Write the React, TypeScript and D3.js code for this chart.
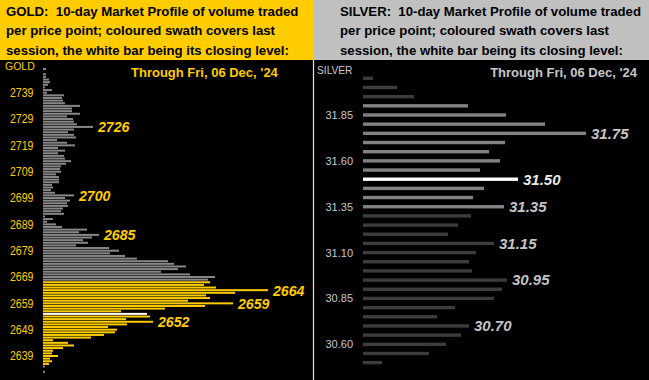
import React from "react";
import * as d3 from "d3";

// ---------- DATA ----------
const goldPrices: number[] = d3.range(2748, 2632, -1);
const goldVolumes: number[] = [
  3, 0, 3, 3, 6, 7, 5, 2, 9, 4,
  21, 19, 20, 22, 37, 29, 29, 37, 24, 30,
  31, 34, 50, 31, 25, 31, 33, 14, 24, 32,
  15, 22, 15, 21, 22, 28, 23, 18, 17, 18,
  13, 16, 16, 16, 9, 10, 8, 12, 31, 22,
  27, 24, 25, 20, 18, 21, 2, 10, 4, 13,
  19, 44, 36, 56, 49, 40, 45, 33, 66, 76,
  67, 82, 94, 125, 131, 143, 135, 118, 147, 172,
  165, 167, 161, 173, 225, 192, 163, 167, 145, 190,
  162, 122, 78, 104, 107, 83, 110, 84, 65, 74,
  72, 61, 48, 10, 25, 31, 20, 10, 9, 15,
  7, 9, 6, 2, 0, 2,
];
const goldSessionLow = 2636;
const goldSessionHigh = 2667;
const goldClose = 2655;
const goldTicks: number[] = [2739, 2729, 2719, 2709, 2699, 2689, 2679, 2669, 2659, 2649, 2639];
const goldCallouts: number[] = [2726, 2700, 2685, 2664, 2659, 2652];

const silverPrices: number[] = [
  32.05, 32.0, 31.95, 31.9, 31.85, 31.8, 31.75, 31.7, 31.65, 31.6,
  31.55, 31.5, 31.45, 31.4, 31.35, 31.3, 31.25, 31.2, 31.15, 31.1,
  31.05, 31.0, 30.95, 30.9, 30.85, 30.8, 30.75, 30.7, 30.65, 30.6,
  30.55, 30.5,
];
const silverVolumes: number[] = [
  10, 34, 51, 105, 143, 182, 223, 142, 126, 137,
  117, 155, 121, 110, 141, 108, 95, 85, 131, 113,
  106, 109, 144, 139, 131, 92, 74, 106, 98, 83,
  66, 19,
];
const silverSessionLow = 31.35;
const silverSessionHigh = 31.9;
const silverClose = 31.5;
const silverTicks: number[] = [31.85, 31.6, 31.35, 31.1, 30.85, 30.6];
const silverCallouts: number[] = [31.75, 31.5, 31.35, 31.15, 30.95, 30.7];

const goldTitle = ["GOLD:  10-day Market Profile of volume traded", "per price point; coloured swath covers last", "session, the white bar being its closing level:"];
const silverTitle = ["SILVER:  10-day Market Profile of volume traded", "per price point; coloured swath covers last", "session, the white bar being its closing level:"];
const dateText = "Through Fri, 06 Dec, '24";

const FONT = "'Liberation Sans', Arial, Helvetica, sans-serif";
const YELLOW = "#ffcc00";

export default function App() {
  const W = 649, H = 380;
  // gold scales
  const gy = d3.scaleLinear().domain([2739, 2639]).range([92.7, 356]);
  const gx = d3.scaleLinear().domain([0, 225]).range([43, 268]);
  // silver scales
  const sy = d3.scaleLinear().domain([31.85, 30.6]).range([115, 344.3]);
  const sx = d3.scaleLinear().domain([0, 223]).range([363, 586]);

  const goldColor = (p: number) =>
    p === goldClose ? "#ffffff" : p >= goldSessionLow && p <= goldSessionHigh ? YELLOW : "#878787";
  const silverColor = (p: number) =>
    Math.abs(p - silverClose) < 1e-6
      ? "#ffffff"
      : p >= silverSessionLow - 1e-6 && p <= silverSessionHigh + 1e-6
      ? "#828282"
      : "#3c3c3c";

  const gIdx = (p: number) => goldPrices.indexOf(p);
  const sIdx = (p: number) => silverPrices.findIndex((q) => Math.abs(q - p) < 1e-6);

  return (
    <svg width={W} height={H} style={{ position: "absolute", left: 0, top: 0, display: "block" }} fontFamily={FONT}>
      <rect x={0} y={0} width={W} height={H} fill="#000" />
      {/* headers */}
      <rect x={0} y={0} width={313} height={60} fill={YELLOW} />
      <rect x={313} y={0} width={W - 313} height={60} fill="#c0c0c0" />
      {goldTitle.map((t, i) => (
        <text key={"gt" + i} x={6} y={15.5 + i * 19.5} fontSize={13.2} fontWeight="bold" fill="#000" style={{ whiteSpace: "pre" }}>
          {t}
        </text>
      ))}
      {silverTitle.map((t, i) => (
        <text key={"st" + i} x={340} y={15.5 + i * 19.5} fontSize={13.2} fontWeight="bold" fill="#000" style={{ whiteSpace: "pre" }}>
          {t}
        </text>
      ))}
      {/* separator */}
      <line x1={313.5} x2={313.5} y1={60} y2={H} stroke="#e6e6d8" strokeWidth={1.2} />

      {/* GOLD panel */}
      <text x={5} y={70} fontSize={10.5} fill={YELLOW}>GOLD</text>
      <text x={131} y={77} fontSize={13} fontWeight="bold" fill={YELLOW}>{dateText}</text>
      {goldTicks.map((t) => (
        <text key={"gk" + t} x={33.5} y={gy(t)} dy="0.36em" fontSize={12} textAnchor="end" fill={YELLOW} textLength={23.5} lengthAdjust="spacingAndGlyphs">
          {t}
        </text>
      ))}
      {goldPrices.map((p, i) =>
        goldVolumes[i] > 0 ? (
          <rect key={"gb" + p} x={gx(0)} y={gy(p) - 1} width={gx(goldVolumes[i]) - gx(0)} height={2} fill={goldColor(p)} />
        ) : null
      )}
      {goldCallouts.map((p) => (
        <text key={"gc" + p} x={gx(goldVolumes[gIdx(p)]) + 5} y={gy(p)} dy="0.36em" fontSize={15} fontWeight="bold" fontStyle="italic" fill={YELLOW} textLength={31.5} lengthAdjust="spacingAndGlyphs">
          {p}
        </text>
      ))}

      {/* SILVER panel */}
      <text x={317} y={74} fontSize={10.2} fill="#c8c8c8">SILVER</text>
      <text x={637} y={77} fontSize={13} fontWeight="bold" fill="#c8c8c8" textAnchor="end">{dateText}</text>
      {silverTicks.map((t) => (
        <text key={"sk" + t} x={353} y={sy(t)} dy="0.36em" fontSize={11} textAnchor="end" fill="#c8c8c8">
          {t.toFixed(2)}
        </text>
      ))}
      {silverPrices.map((p, i) => (
        <rect key={"sb" + i} x={sx(0)} y={sy(p) - 1.7} width={sx(silverVolumes[i]) - sx(0)} height={3.4} fill={silverColor(p)} />
      ))}
      {silverCallouts.map((p) => (
        <text key={"sc" + p} x={sx(silverVolumes[sIdx(p)]) + 5} y={sy(p)} dy="0.36em" fontSize={15} fontWeight="bold" fontStyle="italic" fill={Math.abs(p - silverClose) < 1e-6 ? "#e8e8e8" : "#c4c4c4"}>
          {p.toFixed(2)}
        </text>
      ))}
    </svg>
  );
}
